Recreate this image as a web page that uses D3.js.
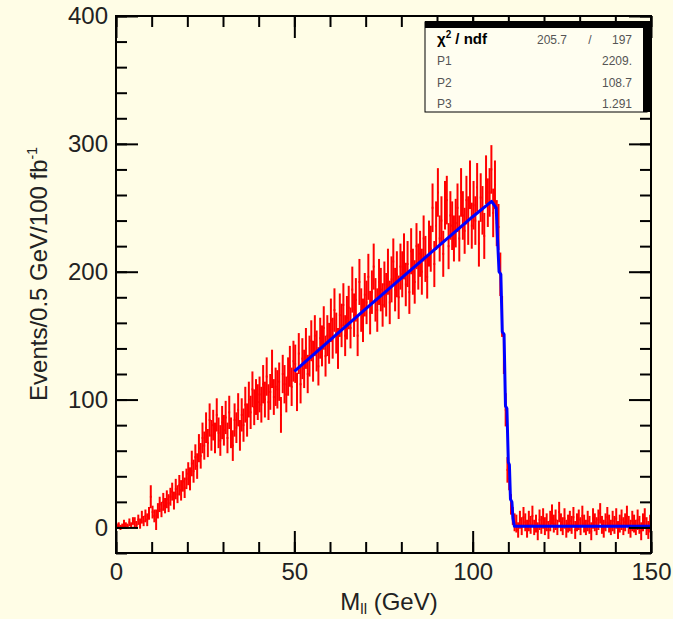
<!DOCTYPE html>
<html>
<head>
<meta charset="utf-8">
<script src="https://cdn.jsdelivr.net/npm/d3@7"></script>
<style>
  html, body { margin: 0; padding: 0; background: #fffde6; }
  svg { display: block; }
  text { font-family: "Liberation Sans", Arial, Helvetica, sans-serif; }
</style>
</head>
<body>
<svg id="chart" width="673" height="619"></svg>
<script>
// Dilepton invariant mass histogram, 0.5 GeV bins from 0 to 150 GeV
const binWidth = 0.5;
const massMin = 0;

// Bin contents (events per 0.5 GeV per 100 fb^-1), ten bins per row
const counts = [
  1, 2, 0, 1, 3, 2, 1, 4, 2, 5,
  4, 2, 6, 3, 8, 5, 9, 6, 11, 24,
  12, 9, 6, 13, 18, 14, 20, 17, 22, 19,
  24, 28, 21, 30, 26, 33, 29, 36, 31, 38,
  42, 38, 50, 44, 55, 48, 62, 56, 70, 64,
  78, 66, 84, 72, 80, 70, 88, 74, 68, 82,
  76, 86, 70, 90, 74, 64, 84, 78, 92, 72,
  88, 80, 96, 84, 100, 90, 108, 94, 102, 98,
  104, 96, 112, 100, 118, 98, 106, 124, 102, 110,
  108, 114, 88, 120, 112, 104, 118, 126, 110, 130,
  128, 106, 136, 112, 132, 124, 140, 120, 134, 146,
  130, 150, 138, 126, 148, 142, 156, 134, 150, 144,
  162, 148, 170, 152, 140, 166, 158, 174, 150, 164,
  172, 156, 186, 166, 178, 150, 192, 170, 162, 182,
  176, 196, 168, 184, 204, 178, 170, 192, 186, 174,
  190, 182, 200, 176, 194, 208, 186, 198, 180, 204,
  198, 212, 190, 206, 184, 216, 200, 192, 220, 204,
  214, 200, 226, 210, 196, 222, 218, 250, 206, 236,
  262, 226, 240, 214, 252, 256, 220, 244, 236, 226,
  238, 250, 226, 262, 244, 232, 256, 240, 268, 236,
  252, 240, 266, 222, 258, 248, 228, 272, 254, 262,
  280, 246, 268, 238, 235, 198, 165, 135, 92, 45,
  38, 18, 9, 4, 3, -2, 6, 1, 8, 4,
  -1, 5, 2, 9, 0, 3, -3, 6, 2, 7,
  1, 4, -2, 5, 10, 3, 6, 0, 12, 4,
  1, 7, -1, 3, 5, 2, 8, -2, 4, 6,
  1, 9, 3, 0, 5, 2, -3, 7, 4, 1,
  6, 11, 2, -1, 4, 8, 3, 0, 5, 2,
  7, -2, 3, 6, 1, 4, 9, 2, -1, 5,
  3, 0, 6, 2, -3, 4, 7, 1, -2, 3
];

// Statistical uncertainty of each bin
const errors = [
  2, 2, 2, 2, 3, 2, 2, 3, 2, 3,
  4, 3, 4, 4, 5, 4, 5, 5, 5, 9,
  5, 5, 8, 6, 6, 6, 7, 6, 7, 7,
  7, 7, 7, 8, 7, 8, 8, 8, 8, 8,
  9, 9, 10, 9, 10, 10, 11, 10, 12, 11,
  12, 11, 13, 12, 12, 12, 13, 12, 12, 13,
  12, 13, 12, 13, 12, 12, 13, 12, 13, 12,
  13, 13, 14, 13, 14, 13, 14, 14, 14, 14,
  14, 14, 15, 14, 15, 14, 14, 15, 14, 15,
  15, 15, 14, 15, 15, 14, 15, 16, 15, 16,
  15, 15, 16, 15, 16, 15, 16, 15, 16, 16,
  16, 16, 16, 15, 16, 16, 17, 16, 16, 16,
  17, 16, 17, 16, 16, 17, 17, 17, 16, 17,
  17, 16, 18, 17, 17, 16, 18, 17, 17, 17,
  17, 18, 17, 17, 18, 17, 17, 18, 17, 17,
  18, 17, 18, 17, 18, 18, 17, 18, 17, 18,
  18, 18, 17, 18, 17, 18, 18, 17, 18, 18,
  18, 18, 18, 18, 17, 18, 18, 19, 18, 19,
  19, 18, 19, 18, 19, 19, 18, 19, 19, 18,
  19, 19, 18, 19, 19, 18, 19, 19, 19, 18,
  19, 19, 19, 18, 19, 19, 18, 19, 19, 19,
  19, 19, 19, 18, 18, 17, 16, 15, 13, 10,
  9, 8, 7, 7, 7, 6, 7, 7, 8, 7,
  7, 8, 7, 8, 6, 7, 7, 8, 7, 8,
  7, 7, 7, 8, 8, 7, 8, 6, 8, 7,
  7, 8, 7, 7, 8, 7, 8, 7, 7, 8,
  7, 8, 7, 6, 8, 7, 7, 8, 7, 7,
  8, 8, 7, 7, 7, 8, 7, 6, 8, 7,
  8, 7, 7, 8, 7, 7, 8, 7, 7, 8,
  7, 6, 8, 7, 7, 7, 8, 7, 7, 7
];

// Fitted edge function (mass in GeV, value)
const fitMass  = [50, 60, 70, 80, 90, 100, 105.3, 106.6, 106.9, 107.4, 107.9, 108.3, 108.8, 109.2, 109.6, 110.0, 110.3, 110.6, 111.0, 111.3, 111.7, 150];
const fitValue = [122, 146.5, 171, 195, 219, 243, 255, 250, 230, 200, 198, 153, 151, 95, 93, 51, 49, 22, 20, 7, 1, 1];

// Fit statistics
const statNames  = ["P1", "P2", "P3"];
const statValues = ["2209.", "108.7", "1.291"];
const chi2Text = "205.7", ndfText = "197";

// Axis ticks
const xMajorTicks = [0, 50, 100, 150];
const xMinorTicks = d3.range(0, 151, 10);
const yMajorTicks = [0, 100, 200, 300, 400];
const yMinorTicks = d3.range(-20, 401, 20);

const svg = d3.select("#chart");
const W = 673, H = 619;
const frame = { left: 116, right: 651, top: 16, bottom: 553 };

svg.append("rect").attr("width", W).attr("height", H).attr("fill", "#fffde6");

const x = d3.scaleLinear().domain([0, 150]).range([frame.left, frame.right]);
const y = d3.scaleLinear().domain([-20, 400]).range([frame.bottom, frame.top]);

svg.append("clipPath").attr("id", "plot-clip")
  .append("rect")
  .attr("x", frame.left).attr("y", frame.top)
  .attr("width", frame.right - frame.left).attr("height", frame.bottom - frame.top);

const bins = counts.map((v, i) => ({
  lo: massMin + i * binWidth,
  hi: massMin + (i + 1) * binWidth,
  v: v,
  e: errors[i]
}));

// Data points with error bars
const data = svg.append("g").attr("clip-path", "url(#plot-clip)");
data.selectAll("line.ey").data(bins).join("line")
  .attr("class", "ey")
  .attr("x1", d => x((d.lo + d.hi) / 2)).attr("x2", d => x((d.lo + d.hi) / 2))
  .attr("y1", d => y(d.v - d.e)).attr("y2", d => y(d.v + d.e))
  .attr("stroke", "#ff0000").attr("stroke-width", 2);
data.selectAll("line.ex").data(bins).join("line")
  .attr("class", "ex")
  .attr("x1", d => x(d.lo)).attr("x2", d => x(d.hi))
  .attr("y1", d => y(d.v)).attr("y2", d => y(d.v))
  .attr("stroke", "#ff0000").attr("stroke-width", 2);

// Fit curve
const fitLine = d3.line().x(d => x(d[0])).y(d => y(d[1]));
data.append("path")
  .datum(fitMass.map((m, i) => [m, fitValue[i]]))
  .attr("d", fitLine)
  .attr("fill", "none").attr("stroke", "#0000ff").attr("stroke-width", 3)
  .attr("stroke-linejoin", "round");

// Frame and tick marks on all four sides
const axisStyle = g => {
  g.select(".domain").remove();
  g.selectAll(".tick line").attr("stroke", "#000").attr("stroke-width", 2);
};
const noLabel = () => "";
const labelStyle = g => g.selectAll(".tick text")
  .attr("font-size", 24).attr("fill", "#222")
  .attr("font-family", "Liberation Sans, Arial, sans-serif");

svg.append("g").attr("transform", `translate(0,${frame.bottom})`)
  .call(d3.axisBottom(x).tickValues(xMinorTicks).tickSize(-11).tickFormat(noLabel)).call(axisStyle);
svg.append("g").attr("transform", `translate(0,${frame.bottom})`)
  .call(d3.axisBottom(x).tickValues(xMajorTicks).tickSize(-22).tickPadding(10)).call(axisStyle)
  .call(labelStyle);
svg.append("g").attr("transform", `translate(0,${frame.top})`)
  .call(d3.axisTop(x).tickValues(xMinorTicks).tickSize(-11).tickFormat(noLabel)).call(axisStyle);
svg.append("g").attr("transform", `translate(0,${frame.top})`)
  .call(d3.axisTop(x).tickValues(xMajorTicks).tickSize(-22).tickFormat(noLabel)).call(axisStyle);

svg.append("g").attr("transform", `translate(${frame.left},0)`)
  .call(d3.axisLeft(y).tickValues(yMinorTicks).tickSize(-11).tickFormat(noLabel)).call(axisStyle);
svg.append("g").attr("transform", `translate(${frame.left},0)`)
  .call(d3.axisLeft(y).tickValues(yMajorTicks).tickSize(-22).tickPadding(8)).call(axisStyle)
  .call(labelStyle);
svg.append("g").attr("transform", `translate(${frame.right},0)`)
  .call(d3.axisRight(y).tickValues(yMinorTicks).tickSize(-11).tickFormat(noLabel)).call(axisStyle);
svg.append("g").attr("transform", `translate(${frame.right},0)`)
  .call(d3.axisRight(y).tickValues(yMajorTicks).tickSize(-22).tickFormat(noLabel)).call(axisStyle);

svg.append("rect")
  .attr("x", frame.left).attr("y", frame.top)
  .attr("width", frame.right - frame.left).attr("height", frame.bottom - frame.top)
  .attr("fill", "none").attr("stroke", "#000").attr("stroke-width", 2);

// Axis titles
const xTitle = svg.append("text")
  .attr("x", 389).attr("y", 610)
  .attr("text-anchor", "middle").attr("font-size", 24).attr("fill", "#222");
xTitle.append("tspan").text("M");
xTitle.append("tspan").attr("font-size", 15).attr("dy", 4).text("ll");
xTitle.append("tspan").attr("dy", -4).text(" (GeV)");

const yTitle = svg.append("text")
  .attr("transform", "translate(47,274) rotate(-90)")
  .attr("text-anchor", "middle").attr("font-size", 24).attr("fill", "#222");
yTitle.append("tspan").text("Events/0.5 GeV/100 fb");
yTitle.append("tspan").attr("font-size", 14).attr("dy", -10).text("-1");

// Fit statistics box
const box = svg.append("g");
box.append("rect").attr("x", 425).attr("y", 22).attr("width", 222).attr("height", 90)
  .attr("fill", "#fffef0").attr("stroke", "#000").attr("stroke-width", 1);
box.append("rect").attr("x", 425).attr("y", 21).attr("width", 225).attr("height", 7).attr("fill", "#000");
box.append("rect").attr("x", 643).attr("y", 21).attr("width", 7).attr("height", 91).attr("fill", "#000");

box.append("text").attr("x", 437).attr("y", 44).attr("font-size", 15).attr("font-weight", "bold")
  .attr("fill", "#000").html("&#967;<tspan font-size='10' dy='-6'>2</tspan><tspan dy='6'> / ndf</tspan>");
box.append("text").attr("x", 567).attr("y", 44).attr("text-anchor", "end").attr("font-size", 12)
  .attr("fill", "#555").text(chi2Text);
box.append("text").attr("x", 590).attr("y", 44).attr("text-anchor", "middle").attr("font-size", 12)
  .attr("fill", "#555").text("/");
box.append("text").attr("x", 632).attr("y", 44).attr("text-anchor", "end").attr("font-size", 12)
  .attr("fill", "#555").text(ndfText);
statNames.forEach((n, i) => {
  const yy = 65 + i * 21.5;
  box.append("text").attr("x", 437).attr("y", yy).attr("font-size", 12).attr("fill", "#555").text(n);
  box.append("text").attr("x", 632).attr("y", yy).attr("text-anchor", "end").attr("font-size", 12)
    .attr("fill", "#555").text(statValues[i]);
});
</script>
</body>
</html>
